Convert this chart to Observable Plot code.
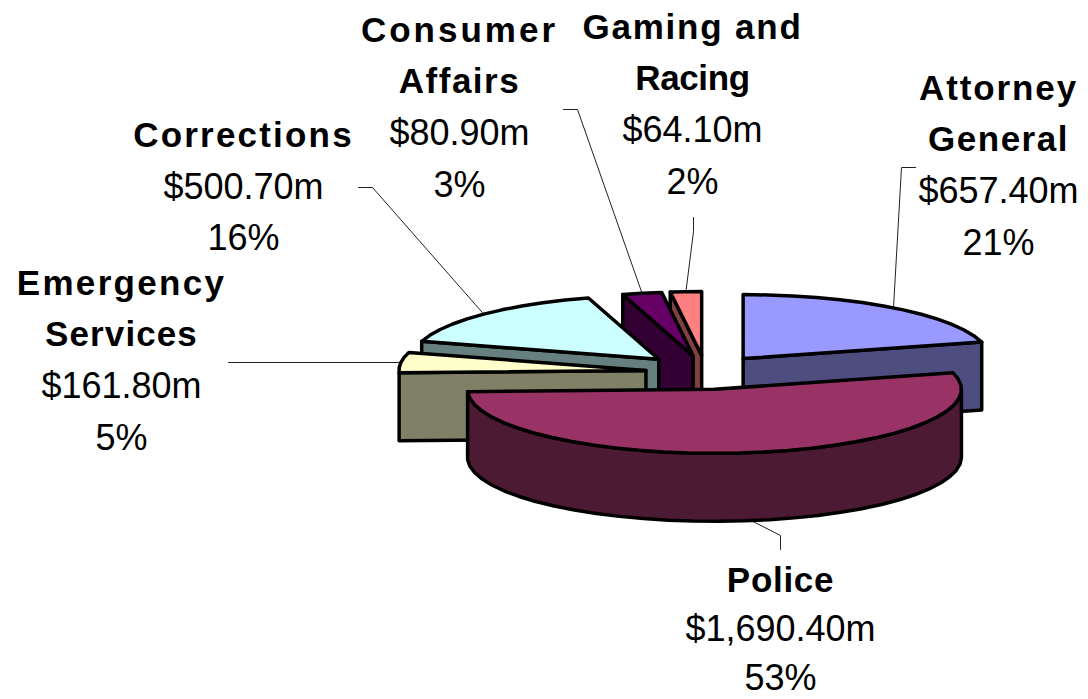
<!DOCTYPE html>
<html><head><meta charset="utf-8">
<script src="https://cdn.jsdelivr.net/npm/d3@7"></script>
<script src="https://cdn.jsdelivr.net/npm/@observablehq/plot@0.6"></script>
<style>html,body{margin:0;padding:0;background:#fff}svg{display:block}</style>
</head><body>
<script>
// Data, clockwise from 12 o'clock
const categories = ["Attorney General","Police","Emergency Services","Corrections","Consumer Affairs","Gaming and Racing"];
const values = [657.4,1690.4,161.8,500.7,80.9,64.1];
const percents = [21,53,5,16,3,2];
const labelLines = [["Attorney","General"],["Police"],["Emergency","Services"],["Corrections"],["Consumer","Affairs"],["Gaming and","Racing"]];
const topColors = ["#9999FF","#993366","#FFFFCC","#CCFFFF","#660066","#FF8080"];
const wallColors = ["#4D4D80","#4D1A33","#808066","#668080","#330033","#804040"];

// Annotation layout (page coordinates), same order as categories
const labelX = [998,780,121,243,459,692];
const labelTop = [88,580,283,135,30,27];
const lineSteps = [51.5,49,51.5,51.5,51.5,51.5];
const headingSpacing = {"Attorney":1.9,"General":1.5,"Police":0.7,"Emergency":2.3,"Services":1.1,"Corrections":2.2,"Consumer":3,"Affairs":1.5,"Gaming and":1.8,"Racing":-0.4};
const leaderBends = [[[915,167],[901,167]],[[780,549],[780,535]],[[228,362]],[[358,187],[372,187]],[[563,109],[577,109]],[[693,217],[693,231]]];

// Pie projection
const explode = [1.03,1,1,1.1,1,1];
const cx=705, cy=372, rx=247, ry=64, depth=68, ex=60, ey=17, step=6*Math.PI/180;

const pie = d3.pie().sort(null)(values);
const slices = pie.map((p,i)=>{
  const mid=(p.startAngle+p.endAngle)/2;
  const ax=cx+explode[i]*ex*Math.sin(mid), ay=cy-explode[i]*ey*Math.cos(mid);
  const pt=(a,dz=0)=>[ax+rx*Math.sin(a), ay-ry*Math.cos(a)+dz];
  const arc=(a0,a1,dz=0)=>{
    const n=Math.max(1,Math.ceil(Math.abs(a1-a0)/step));
    return d3.range(n+1).map(k=>pt(a0+(a1-a0)*k/n,dz));
  };
  return {i,mid,ax,ay,pt,arc,a0:p.startAngle,a1:p.endAngle};
});

const polys=[];
function add(id,color,pts){
  const c=[...pts,pts[0]];
  c.forEach(([x,y])=>polys.push({id,color,x,y}));
}
function plane(s,a){ // straight cut face
  const e=s.pt(a), e2=s.pt(a,depth);
  return [[s.ax,s.ay],e,e2,[s.ax,s.ay+depth]];
}
// back to front
[5,4,3,2,0,1].forEach(i=>{
  const s=slices[i];
  if(i===1){
    const a0=Math.max(s.a0,Math.PI/2);
    add("w"+i,wallColors[i],[...s.arc(a0,s.a1),...s.arc(s.a1,a0,depth)]);
  } else if(i===0){
    add("w"+i,wallColors[i],plane(s,s.a1));
  } else {
    add("w"+i,wallColors[i],plane(s,s.a0));
  }
  add("t"+i,topColors[i],[[s.ax,s.ay],...s.arc(s.a0,s.a1)]);
});

const leaders=[];
slices.forEach(s=>{
  const end=s.pt(s.mid,s.i===1?depth:0);
  [...leaderBends[s.i],end].forEach(([x,y])=>leaders.push({id:s.i,x,y}));
});

const boldRows=[], plainRows=[];
categories.forEach((c,i)=>{
  const L=labelLines[i], h=lineSteps[i];
  L.forEach((t,k)=>boldRows.push({t,x:labelX[i],y:labelTop[i]+k*h}));
  const n=L.length;
  plainRows.push({t:d3.format("$,.2f")(values[i])+"m",x:labelX[i],y:labelTop[i]+n*h});
  plainRows.push({t:percents[i]+"%",x:labelX[i],y:labelTop[i]+(n+1)*h});
});

const chart=Plot.plot({
  width:1088,height:699,margin:0,
  x:{domain:[0,1088],range:[0,1088],axis:null},
  y:{domain:[0,699],range:[0,699],axis:null},
  color:{type:"identity"},
  marks:[
    Plot.line(leaders,{x:"x",y:"y",z:"id",stroke:"#222",strokeWidth:1,curve:"linear"}),
    Plot.line(polys,{x:"x",y:"y",z:"id",fill:"color",stroke:"#000",strokeWidth:3.5,strokeLinejoin:"round",curve:"linear"}),
    Plot.text(boldRows,{x:"x",y:"y",text:"t",fontFamily:"Liberation Sans",fontSize:35,fontWeight:"bold",fill:"#000",textAnchor:"middle",lineAnchor:"middle"}),
    Plot.text(plainRows,{x:"x",y:"y",text:"t",fontFamily:"Liberation Sans",fontSize:36,fill:"#000",textAnchor:"middle",lineAnchor:"middle"})
  ]
});
document.body.appendChild(chart);
// per-line tracking of the bold headings
d3.select(chart).selectAll("text").each(function(){
  const sp=headingSpacing[this.textContent];
  if(sp!==undefined) this.setAttribute("letter-spacing",sp);
});
</script>
</body></html>
